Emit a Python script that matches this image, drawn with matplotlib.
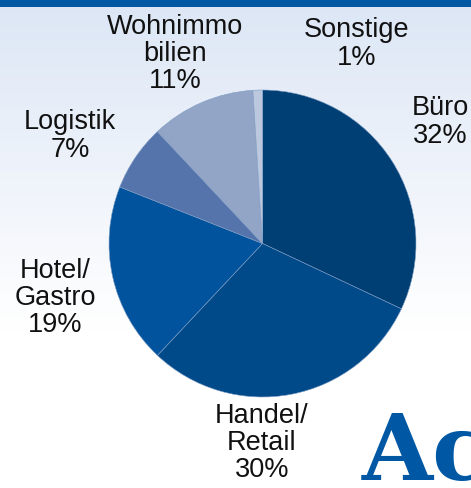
import numpy as np
import matplotlib
matplotlib.use("Agg")
import matplotlib.pyplot as plt
from matplotlib.patches import Rectangle

categories = ["Büro", "Handel/\nRetail", "Hotel/\nGastro", "Logistik", "Wohnimmo\nbilien", "Sonstige"]
values = [32, 30, 19, 7, 11, 1]
colors = ["#003f74", "#004a8a", "#00539c", "#5574ab", "#93a5c6", "#bcc8de"]
# label centers in pixel coordinates (x from left, y from top)
label_pos = [(440, 122), (262, 443), (55, 298), (70, 136), (175, 54), (357, 44)]

W, H = 471, 488
fig = plt.figure(figsize=(W / 100, H / 100), dpi=100)

# background gradient
bg = fig.add_axes([0, 0, 1, 1], zorder=0)
bg.set_axis_off()
ys = np.linspace(0, 1, 488)
top = np.array([0xdc, 0xe6, 0xf5]) / 255.0
frac = np.clip(ys / (330 / 488), 0, 1)[:, None]
grad = top * (1 - frac) + np.ones(3) * frac
img = np.repeat(grad[:, None, :], 2, axis=1)
bg.imshow(img, aspect="auto", extent=[0, 1, 0, 1], origin="upper")
bg.set_xlim(0, 1)
bg.set_ylim(0, 1)
bg.add_patch(Rectangle((0, 1 - 7 / H), 1, 7 / H, color="#0057a3", lw=0))

# pie axes
cx, cy, r = 262.5, 243.5, 153.5
ax = fig.add_axes([(cx - r) / W, (H - cy - r) / H, 2 * r / W, 2 * r / H], zorder=1)
ax.pie(values, colors=colors, startangle=90, counterclock=False, radius=1,
       wedgeprops=dict(edgecolor="#7f9cc4", linewidth=0.4))
ax.set_xlim(-1, 1)
ax.set_ylim(-1, 1)
ax.set_axis_off()

for cat, v, (px, py) in zip(categories, values, label_pos):
    fig.text(px / W, 1 - py / H, f"{cat}\n{v}%", ha="center", va="center",
             fontsize=19.5, family="Liberation Sans", color="#111111", linespacing=1.07,
             zorder=3)

fig.text(362 / W, 1 - 480 / H, "Ac", ha="left", va="baseline", fontsize=66,
         family="DejaVu Serif", fontweight="bold", color="#0057a3", zorder=3)

fig.savefig("out.png", dpi=100)
